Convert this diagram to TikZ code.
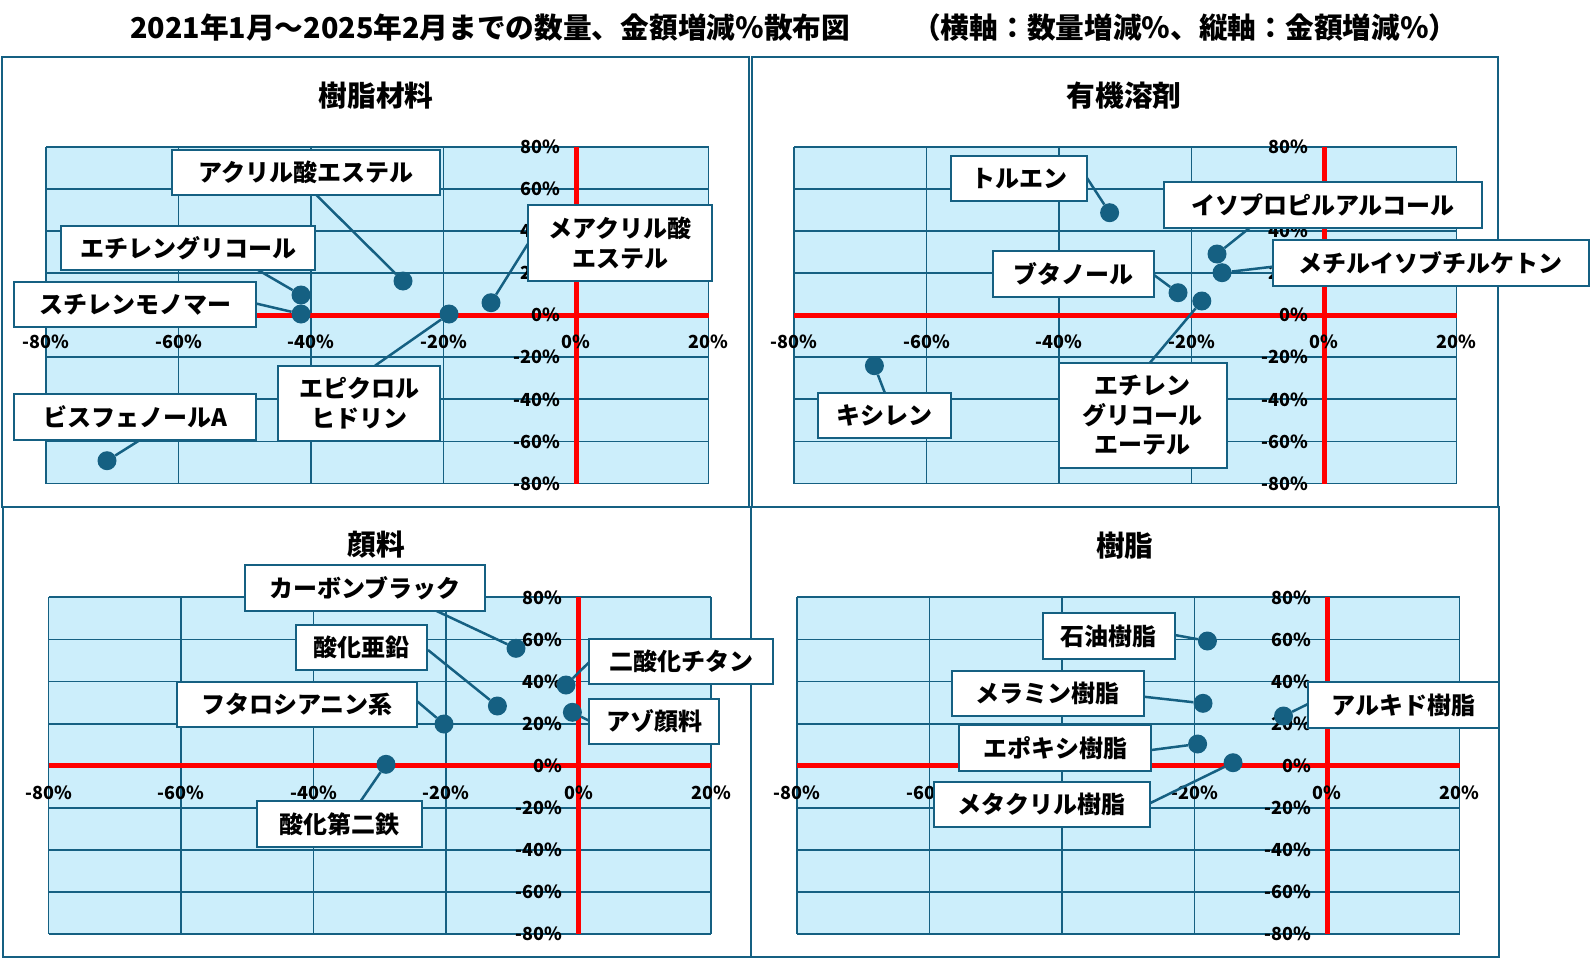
\documentclass[tikz,border=0pt]{standalone}
\usepackage{fontspec}
\setmainfont{Noto Sans CJK JP}
\definecolor{chartblue}{RGB}{21,96,130}
\definecolor{gridbg}{RGB}{204,238,251}
\definecolor{axisred}{RGB}{255,0,0}
\tikzset{
  panelframe/.style={draw=chartblue, line width=2pt, fill=white},
  gridline/.style={draw=chartblue, line width=1.8pt},
  axisline/.style={draw=axisred, line width=5pt},
  ticklbl/.style={font=\fontsize{18}{20}\selectfont\bfseries, inner sep=0pt, text=black},
  ptitle/.style={font=\fontsize{28.7}{32}\selectfont\bfseries, inner sep=0pt, text=black},
  lbl/.style={draw=chartblue, line width=2pt, fill=white, inner sep=0pt, align=center,
    font=\fontsize{24}{29.5}\selectfont\bfseries, text=black},
  datadot/.style={circle, fill=chartblue, minimum size=19pt, inner sep=0pt},
  leader/.style={draw=chartblue, line width=2.5pt},
}
\newcommand\lbox[6]{\node[lbl, minimum width={#4-#2}, minimum height={#5-#3}] (#1) at ({(#2+#4)/2},{(#3+#5)/2}) {#6};}
\newcommand\pdot[3]{\node[datadot] (#1) at (#2,#3) {};}
\newcommand\panelgrid[3]{%
  \fill[gridbg] (#1,#2) rectangle ({#1+662.5},{#2+336.8});
  \foreach \i in {0,...,5} \draw[gridline] ({#1+\i*132.5},#2) -- ({#1+\i*132.5},{#2+336.8});
  \foreach \j in {0,...,8} \draw[gridline] (#1,{#2+\j*42.1}) -- ({#1+662.5},{#2+\j*42.1});
  \draw[axisline] (#1,{#2+4*42.1}) -- ({#1+662.5},{#2+4*42.1});
  \draw[axisline] ({#1+4*132.5},#2) -- ({#1+4*132.5},{#2+336.8});
  \foreach \v [count=\i from 0] in {-80,-60,-40,-20,0,20}
    \node[ticklbl] (#3x\i) at ({#1+\i*132.5},{#2+4*42.1+27}) {\v\%};
  \foreach \v [count=\j from 0] in {80,60,40,20,0,-20,-40,-60,-80}
    \node[ticklbl, anchor=east] (#3y\j) at ({#1+4*132.5-16},{#2+\j*42.1}) {\v\%};
}
\begin{document}
\begin{tikzpicture}[x=1pt,y=-1pt]
\useasboundingbox (0,0) rectangle (1592,958);
\fill[white] (0,0) rectangle (1592,958);
% main title
\node[ptitle, anchor=west] (title1) at (130,27.5) {2021年1月～2025年2月までの数量、金額増減％散布図};
\node[ptitle, anchor=west] (title2) at (912,27.5) {（横軸：数量増減％、縦軸：金額増減％）};
% panel frames
\draw[panelframe] (1.5,57) rectangle (748.5,506.5);
\draw[panelframe] (752,57) rectangle (1497.7,506.5);
\draw[panelframe] (2.5,506.5) rectangle (751,956.7);
\draw[panelframe] (751,506.5) rectangle (1499,956.7);
% panel titles
\node[ptitle] (pt1) at (376,96) {樹脂材料};
\node[ptitle] (pt2) at (1124,96) {有機溶剤};
\node[ptitle] (pt3) at (376,545) {顔料};
\node[ptitle] (pt4) at (1124.8,546) {樹脂};
% grids
\panelgrid{46}{146.7}{a}
\panelgrid{794}{146.7}{b}
\panelgrid{48.5}{597.3}{c}
\panelgrid{797}{597.3}{d}

% ===== Panel 1: 樹脂材料 =====
\pdot{acrd}{403}{281}
\pdot{egd}{301}{295}
\pdot{styd}{301}{314}
\pdot{epid}{449}{314}
\pdot{mmad}{491}{302.7}
\pdot{bpad}{107}{460.7}
\coordinate (acrl) at (316,194.7);
\coordinate (egl) at (258,270);
\coordinate (styl) at (256,303.5);
\coordinate (epil) at (375,365.7);
\coordinate (bpal) at (140,440);
\coordinate (mmal) at (528,243.7);
\draw[leader] (acrl) -- (acrd);
\draw[leader] (egl) -- (egd);
\draw[leader] (styl) -- (styd);
\draw[leader] (epid) -- (epil);
\draw[leader] (bpad) -- (bpal);
\draw[leader] (mmad) -- (mmal);
\lbox{acr}{172}{150}{440}{194.7}{アクリル酸エステル}
\lbox{eg}{61}{225.7}{315}{270}{エチレングリコール}
\lbox{sty}{14.3}{281.7}{256}{327}{スチレンモノマー}
\lbox{bpa}{14.3}{394}{256}{440}{ビスフェノールA}
\lbox{epi}{278}{365.7}{440}{440.7}{エピクロル\\ヒドリン}
\lbox{mma}{528}{205}{712}{281}{メアクリル酸\\エステル}

% ===== Panel 2: 有機溶剤 =====
\pdot{told}{1109.6}{212.7}
\pdot{ipad}{1217}{254}
\pdot{mibkd}{1222}{272.7}
\pdot{butd}{1178}{292.7}
\pdot{eged}{1201.8}{301}
\pdot{xyld}{874.4}{365.7}
\coordinate (toll) at (1087,178);
\coordinate (ipal) at (1249.5,228);
\coordinate (mibkl) at (1272.8,266.7);
\coordinate (butl) at (1154,275);
\coordinate (egel) at (1150,362.7);
\coordinate (xyll) at (885,393.3);
\draw[leader] (toll) -- (told);
\draw[leader] (ipal) -- (ipad);
\draw[leader] (mibkd) -- (mibkl);
\draw[leader] (butl) -- (butd);
\draw[leader] (eged) -- (egel);
\draw[leader] (xyld) -- (xyll);
\lbox{tol}{951}{156}{1087}{200.7}{トルエン}
\lbox{ipa}{1164}{182}{1481.5}{228}{イソプロピルアルコール}
\lbox{mibk}{1272.8}{240}{1589}{285.7}{メチルイソブチルケトン}
\lbox{but}{993}{250.7}{1154}{296.7}{ブタノール}
\lbox{ege}{1058.7}{362.7}{1226.7}{468.3}{エチレン\\グリコール\\エーテル}
\lbox{xyl}{817.5}{393.3}{951.4}{438.3}{キシレン}

% ===== Panel 3: 顔料 =====
\pdot{cbd}{516}{648.3}
\pdot{znod}{497.4}{706}
\pdot{tiod}{566}{685}
\pdot{azod}{572.4}{712.3}
\pdot{phtd}{444}{724}
\pdot{fed}{386}{764.3}
\coordinate (cbl) at (436,610.7);
\coordinate (znol) at (428,650);
\coordinate (tiol) at (589,662.3);
\coordinate (azol) at (589,720.7);
\coordinate (phtl) at (416.8,701);
\coordinate (fel) at (360.7,801);
\draw[leader] (cbl) -- (cbd);
\draw[leader] (znol) -- (znod);
\draw[leader] (tiod) -- (tiol);
\draw[leader] (azod) -- (azol);
\draw[leader] (phtl) -- (phtd);
\draw[leader] (fed) -- (fel);
\lbox{cb}{245}{565}{484.7}{610.7}{カーボンブラック}
\lbox{zno}{296}{625}{427}{670}{酸化亜鉛}
\lbox{tio}{589}{639.3}{773}{684}{二酸化チタン}
\lbox{azo}{589}{698.7}{719.4}{744.3}{アゾ顔料}
\lbox{pht}{177}{681.7}{416.8}{727.3}{フタロシアニン系}
\lbox{fe}{256.6}{801}{422.4}{846.7}{酸化第二鉄}

% ===== Panel 4: 樹脂 =====
\pdot{petd}{1207.4}{641}
\pdot{meld}{1203}{703.3}
\pdot{epod}{1197.6}{744}
\pdot{macd}{1233}{762.7}
\pdot{alkd}{1283.5}{716}
\coordinate (petl) at (1174.8,635);
\coordinate (mell) at (1143.8,696.7);
\coordinate (epol) at (1151.4,750);
\coordinate (macl) at (1149.8,803.3);
\coordinate (alkl) at (1308,704);
\draw[leader] (petl) -- (petd);
\draw[leader] (mell) -- (meld);
\draw[leader] (epol) -- (epod);
\draw[leader] (macl) -- (macd);
\draw[leader] (alkd) -- (alkl);
\lbox{pet}{1043}{613.3}{1174.8}{659}{石油樹脂}
\lbox{mel}{952}{670.7}{1143.8}{716}{メラミン樹脂}
\lbox{epo}{959}{725.3}{1151.4}{770.7}{エポキシ樹脂}
\lbox{mac}{934}{782}{1149.8}{826.7}{メタクリル樹脂}
\lbox{alk}{1308}{682.3}{1499}{728}{アルキド樹脂}
\end{tikzpicture}
\end{document}
